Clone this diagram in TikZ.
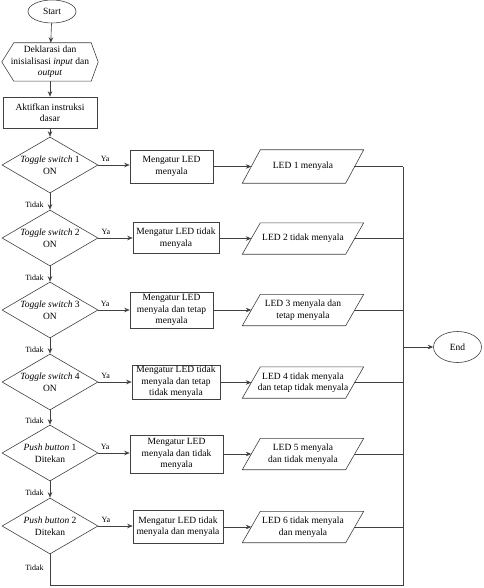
\documentclass[tikz,border=0pt]{standalone}
\usepackage{fontspec}
\setmainfont{Liberation Serif}
\usetikzlibrary{arrows.meta,shapes.geometric,calc}
\begin{document}
\begin{tikzpicture}[x=1pt,y=-1pt,
  every node/.style={font=\fontsize{9.5}{11.5}\selectfont, inner sep=0pt, align=center},
  ln/.style={draw=black!75, line width=0.6pt},
  arr/.style={ln, -{Stealth[length=5.5pt,width=4.5pt]}},
  term/.style={ellipse, ln, minimum width=48pt, minimum height=23pt},
  proc/.style={rectangle, ln, minimum height=32pt},
  dec/.style={diamond, ln, minimum width=96pt, minimum height=56pt, aspect=1.7},
  io/.style={rectangle, minimum width=103pt, minimum height=31pt},
  lbl/.style={font=\fontsize{8}{9}\selectfont}
]
\useasboundingbox (0,0) rectangle (483,588);

\node[term] (start) at (52,11.5) {Start};
\node[minimum width=96pt, minimum height=38pt] (hex) at (50,62) {Deklarasi dan\\inisialisasi \textit{input} dan\\\textit{output}};
\draw[ln] (hex.west) -- ([xshift=12pt]hex.north west) -- ([xshift=-7pt]hex.north east) -- (hex.east) -- ([xshift=-7pt]hex.south east) -- ([xshift=12pt]hex.south west) -- cycle;
\node[proc, minimum width=94pt, minimum height=31pt] (init) at (50,112.5) {Aktifkan instruksi\\dasar};

% decisions
\node[dec] (d1) at (50,165) {\textit{Toggle switch} 1\\ON};
\node[dec] (d2) at (50,238) {\textit{Toggle switch} 2\\ON};
\node[dec] (d3) at (50,310) {\textit{Toggle switch} 3\\ON};
\node[dec] (d4) at (50,382) {\textit{Toggle switch} 4\\ON};
\node[dec] (d5) at (50,453) {\textit{Push button} 1\\Ditekan};
\node[dec] (d6) at (50,526) {\textit{Push button} 2\\Ditekan};

% processes
\node[proc, minimum width=83pt, minimum height=33pt] (p1) at (171.5,166.5) {Mengatur LED\\menyala};
\node[proc, minimum width=86pt, minimum height=31pt] (p2) at (176,238) {Mengatur LED tidak\\menyala};
\node[proc, minimum width=83pt, minimum height=36pt] (p3) at (171.5,310) {Mengatur LED\\menyala dan tetap\\menyala};
\node[proc, minimum width=88pt, minimum height=34pt] (p4) at (176,382) {Mengatur LED tidak\\menyala dan tetap\\tidak menyala};
\node[proc, minimum width=93pt, minimum height=38pt] (p5) at (176.5,454) {Mengatur LED\\menyala dan tidak\\menyala};
\node[proc, minimum width=90pt, minimum height=33pt] (p6) at (178,526.5) {Mengatur LED tidak\\menyala dan menyala};

% io
\node[io, minimum height=33pt] (o1) at (303,166.5) {LED 1 menyala};
\node[io] (o2) at (303,238.5) {LED 2 tidak menyala};
\node[io] (o3) at (303,310) {LED 3 menyala dan\\tetap menyala};
\node[io] (o4) at (303,382.5) {LED 4 tidak menyala\\dan tetap tidak menyala};
\node[io] (o5) at (303,454) {LED 5 menyala\\dan tidak menyala};
\node[io] (o6) at (303,527) {LED 6 tidak menyala\\dan menyala};
\foreach \o in {o1,o2,o3,o4,o5,o6}{
  \draw[ln] ([xshift=-9pt]\o.south west) -- ([xshift=9pt]\o.north west) -- ([xshift=9pt]\o.north east) -- ([xshift=-9pt]\o.south east) -- cycle;
}

\node[term, minimum width=48pt, minimum height=31pt] (end) at (457.5,347) {End};

% main flow
\draw[arr] (start) -- (hex);
\draw[arr] (hex) -- (init);
\draw[arr] (init) -- (d1);
\draw[arr] (d1) -- (d2) node[pos=0.72, left=6pt, lbl] {Tidak};
\draw[arr] (d2) -- (d3) node[pos=0.72, left=6pt, lbl] {Tidak};
\draw[arr] (d3) -- (d4) node[pos=0.72, left=6pt, lbl] {Tidak};
\draw[arr] (d4) -- (d5) node[pos=0.72, left=6pt, lbl] {Tidak};
\draw[arr] (d5) -- (d6) node[pos=0.72, left=6pt, lbl] {Tidak};

\foreach \i in {1,...,6}{
  \draw[arr] (d\i.east) -- (d\i.east -| p\i.west) node[pos=0.22, above=3pt, lbl] {Ya};
  \draw[arr] (p\i.east |- o\i.west) -- (o\i.west);
}

% merge line
\coordinate (vt) at (403,166.5);
\coordinate (vb) at (403,585);
\coordinate (bl) at (50,585);
\foreach \i in {1,...,6}{
  \draw[ln] ([xshift=-1pt]o\i.east) -- (o\i.east -| vt);
}
\draw[ln] (d6.south) -- (bl) node[pos=0.45, left=6pt, lbl] {Tidak} -- (vb) -- (vt);
\draw[arr] (vt |- end.west) -- (end.west);
\end{tikzpicture}
\end{document}
